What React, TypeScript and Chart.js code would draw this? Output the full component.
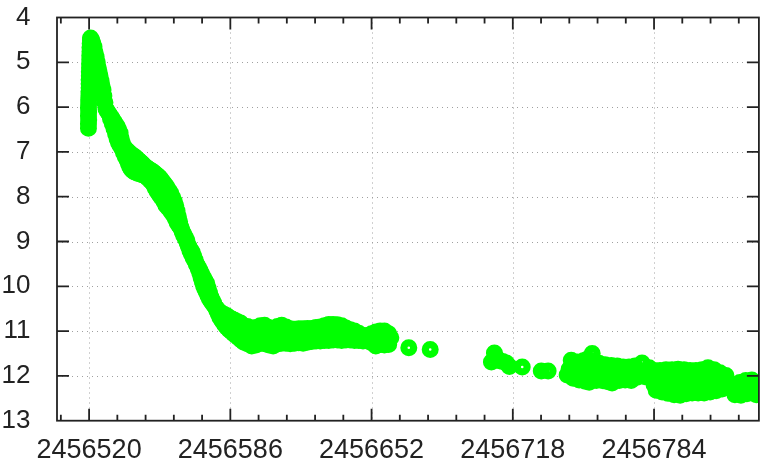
import { useEffect, useRef } from "react";
import { Chart, registerables } from "chart.js";

Chart.register(...registerables);

// Julian dates are stored as day offsets from JD0
const JD0 = 2456500;

const xMin = 2456505;
const xMax = 2456833;
const magMin = 4;
const magMax = 13;

const xTickValues = [2456520, 2456586, 2456652, 2456718, 2456784];
const magTicks = [4, 5, 6, 7, 8, 9, 10, 11, 12, 13];

// [day, magnitude]
const peakStub: [number, number][] = [
  [19.7, 6.47], [19.7, 6.38], [19.8, 6.29], [19.7, 6.2], [19.8, 6.11], [19.7, 6.02], [19.8, 5.93],
  [19.8, 5.84], [19.9, 5.75], [19.9, 5.66], [20.0, 5.57], [20.0, 5.48], [20.0, 5.39], [20.1, 5.3],
  [20.1, 5.21], [20.2, 5.12], [20.2, 5.03], [20.3, 4.94], [20.3, 4.85], [20.4, 4.76], [20.4, 4.67],
  [20.5, 4.58], [20.6, 4.5], [20.7, 4.46], [20.8, 4.7], [21.2, 4.9], [21.8, 5.1], [22.3, 5.3],
];

const declineBright: [number, number][] = [
  [21.2, 4.5], [21.8, 4.58], [22.3, 4.66], [22.8, 4.78], [23.3, 4.88], [23.8, 5.0], [24.3, 5.12],
  [24.7, 5.22], [25.1, 5.31], [25.6, 5.42], [26.0, 5.52], [26.5, 5.62], [26.9, 5.75], [27.4, 5.9],
  [27.9, 6.04], [28.6, 6.1], [29.3, 6.15], [30.0, 6.2], [30.7, 6.25], [31.5, 6.31], [32.3, 6.37],
  [33.1, 6.43], [33.8, 6.5], [34.5, 6.58], [35.0, 6.7], [35.5, 6.8], [36.2, 6.88], [37.0, 6.93],
  [37.8, 6.97], [38.7, 7.01], [39.6, 7.05], [40.5, 7.08], [41.4, 7.11], [42.3, 7.15], [43.3, 7.19],
  [44.2, 7.23], [45.1, 7.27], [46.0, 7.32], [46.9, 7.35], [47.8, 7.38], [48.7, 7.41], [49.5, 7.43],
  [50.3, 7.46], [51.2, 7.5], [52.1, 7.53], [53.0, 7.57], [53.8, 7.62], [54.6, 7.67], [55.4, 7.72],
  [56.3, 7.78], [57.2, 7.85], [58.1, 7.92], [59.0, 8.01], [59.8, 8.1], [60.5, 8.2], [61.1, 8.32],
  [61.7, 8.44], [62.3, 8.56], [62.9, 8.68], [63.5, 8.78], [64.2, 8.86], [65.0, 8.94], [65.8, 9.03],
  [66.6, 9.11], [67.4, 9.18], [68.2, 9.24], [68.9, 9.33], [69.6, 9.42], [70.3, 9.52], [71.0, 9.61],
  [71.7, 9.7], [72.3, 9.8], [72.9, 9.9], [73.5, 9.99], [74.1, 10.06], [74.8, 10.13], [75.5, 10.2],
  [76.2, 10.27], [76.9, 10.33], [77.8, 10.39], [78.8, 10.45], [79.8, 10.5], [80.9, 10.56], [82.0, 10.6],
  [83.2, 10.63], [84.4, 10.66], [85.6, 10.7], [86.8, 10.73], [88.0, 10.76], [89.4, 10.79], [90.8, 10.82],
];

const declineMid: [number, number][] = [
  [37.5, 7.08], [38.5, 7.15], [39.5, 7.21], [40.5, 7.25], [41.5, 7.29], [42.5, 7.32], [43.5, 7.35],
  [44.5, 7.38], [45.5, 7.4], [46.5, 7.43], [47.5, 7.48], [48.5, 7.52], [49.5, 7.56], [50.5, 7.6],
  [51.5, 7.66], [52.5, 7.73], [53.5, 7.79], [54.5, 7.86], [55.5, 7.92], [56.5, 7.99], [57.5, 8.07],
  [58.5, 8.15], [59.5, 8.24], [86.0, 10.86], [87.0, 10.9], [88.0, 10.93], [89.0, 10.96], [90.0, 10.99],
  [91.0, 11.02], [92.0, 11.04],
];

const declineFaint: [number, number][] = [
  [30.0, 6.26], [30.8, 6.36], [31.6, 6.47], [32.4, 6.6], [33.1, 6.71], [33.8, 6.8], [34.6, 6.87],
  [35.4, 6.93], [36.1, 7.02], [36.9, 7.1], [37.7, 7.18], [38.4, 7.26], [39.0, 7.33], [39.6, 7.38],
  [40.4, 7.42], [41.2, 7.45], [42.0, 7.46], [42.9, 7.48], [43.8, 7.49], [44.7, 7.51], [45.6, 7.52],
  [46.6, 7.55], [47.5, 7.59], [48.4, 7.63], [49.4, 7.68], [50.2, 7.74], [51.0, 7.81], [51.8, 7.88],
  [52.6, 7.94], [53.5, 8.0], [54.3, 8.05], [55.1, 8.12], [55.9, 8.19], [56.8, 8.24], [57.7, 8.29],
  [58.6, 8.35], [59.6, 8.42], [60.4, 8.5], [61.1, 8.57], [61.8, 8.63], [62.5, 8.67], [63.3, 8.74],
  [64.1, 8.82], [64.9, 8.9], [65.7, 8.98], [66.4, 9.1], [67.1, 9.2], [67.8, 9.28], [68.6, 9.36],
  [69.4, 9.43], [70.2, 9.51], [71.0, 9.57], [71.8, 9.64], [72.6, 9.72], [73.4, 9.8], [74.2, 9.87],
  [75.0, 9.94], [75.7, 10.05], [76.3, 10.15], [76.9, 10.24], [77.6, 10.31], [78.3, 10.38], [79.0, 10.46],
  [79.7, 10.54], [80.4, 10.62], [81.1, 10.69], [82.0, 10.76], [82.8, 10.82], [83.6, 10.87], [84.4, 10.92],
  [85.4, 10.97], [86.4, 11.01], [87.5, 11.06], [88.6, 11.1], [89.8, 11.15], [91.0, 11.2], [92.3, 11.25],
];

const plateauBright: [number, number][] = [
  [94, 10.9], [96, 10.93], [98, 10.92], [100, 10.88], [102, 10.87], [104, 10.92], [106, 10.95],
  [108, 10.9], [110, 10.87], [112, 10.91], [114, 10.95], [116, 10.96], [118, 10.95], [120, 10.95],
  [122, 10.94], [124, 10.94], [126, 10.92], [128, 10.91], [130, 10.88], [132, 10.85], [134, 10.85],
  [136, 10.86], [138, 10.88], [140, 10.93], [142, 10.97], [144, 11.0], [146, 11.05], [148, 11.1],
  [150, 11.1], [152, 11.06], [154, 11.02], [156, 11.0], [158, 11.0], [160, 11.06],
];

const plateauMid: [number, number][] = [
  [93, 11.08], [95, 11.12], [97, 11.13], [99, 11.1], [101, 11.08], [103, 11.1], [105, 11.13],
  [107, 11.11], [109, 11.08], [111, 11.09], [113, 11.11], [115, 11.12], [117, 11.11], [119, 11.1],
  [121, 11.11], [123, 11.1], [125, 11.08], [127, 11.07], [129, 11.05], [131, 11.03], [133, 11.03],
  [135, 11.03], [137, 11.04], [139, 11.06], [141, 11.08], [143, 11.1], [145, 11.13], [147, 11.15],
  [149, 11.16], [151, 11.16], [153, 11.17], [155, 11.17], [157, 11.16], [159, 11.18], [161, 11.15],
];

const plateauFaint: [number, number][] = [
  [94, 11.28], [96, 11.33], [98, 11.31], [100, 11.27], [102, 11.28], [104, 11.31], [106, 11.33],
  [108, 11.29], [110, 11.27], [112, 11.27], [114, 11.28], [116, 11.27], [118, 11.26], [120, 11.27],
  [122, 11.25], [124, 11.23], [126, 11.22], [128, 11.22], [130, 11.21], [132, 11.21], [134, 11.2],
  [136, 11.2], [138, 11.21], [140, 11.2], [142, 11.2], [144, 11.21], [146, 11.21], [148, 11.22],
  [150, 11.22], [152, 11.26], [154, 11.33], [156, 11.3], [158, 11.31], [160, 11.3],
];

const lateSparse: [number, number][] = [
  [169.4, 11.37], [179.4, 11.41], [208.0, 11.69], [209.4, 11.49], [210.5, 11.6], [211.7, 11.66],
  [213.3, 11.68], [215.0, 11.71], [216.4, 11.79], [222.4, 11.8], [231.3, 11.89], [234.5, 11.89],
];

const lateGroupA: [number, number][] = [
  [245.3, 11.65], [248.1, 11.69], [251.0, 11.66], [253.0, 11.62], [255.1, 11.5], [258.3, 11.72],
  [261.1, 11.75], [264.0, 11.77], [266.8, 11.78], [269.5, 11.8], [272.3, 11.8], [275.1, 11.78],
  [278.4, 11.71], [281.7, 11.82],
  [244.3, 11.85], [247.1, 11.89], [250.0, 11.92], [252.7, 11.9], [255.5, 11.91], [258.3, 11.92],
  [261.1, 11.93], [263.9, 11.94], [266.8, 11.94], [269.5, 11.93], [272.3, 11.94], [275.1, 11.93],
  [278.0, 11.92], [280.8, 11.94],
  [243.4, 11.98], [246.2, 12.05], [249.0, 12.09], [251.8, 12.12], [253.7, 12.14], [257.0, 12.1],
  [260.2, 12.11], [262.5, 12.13], [264.4, 12.16], [267.7, 12.1], [270.5, 12.09], [273.3, 12.1],
  [276.1, 12.03], [279.8, 12.02],
];

const lateGroupB: [number, number][] = [
  [284.0, 11.88], [286.8, 11.88], [289.6, 11.86], [292.4, 11.86], [295.2, 11.85], [298.0, 11.86],
  [300.8, 11.88], [303.6, 11.88], [306.4, 11.86], [309.2, 11.82], [312.0, 11.86], [314.8, 11.93],
  [317.6, 11.99],
  [285.4, 12.03], [288.2, 12.04], [291.0, 12.03], [293.8, 12.02], [296.6, 12.03], [299.4, 12.05],
  [302.2, 12.05], [305.0, 12.04], [307.8, 12.03], [310.6, 12.04], [313.4, 12.07], [316.2, 12.1],
  [284.0, 12.2], [286.8, 12.21], [289.6, 12.19], [292.4, 12.2], [295.2, 12.22], [298.0, 12.21],
  [300.8, 12.2], [303.6, 12.19], [306.4, 12.2], [309.2, 12.21], [312.0, 12.22], [314.8, 12.24],
  [317.6, 12.25],
  [285.0, 12.32], [287.8, 12.36], [290.6, 12.39], [293.4, 12.42], [296.2, 12.43], [299.0, 12.4],
  [301.8, 12.38], [304.6, 12.38], [307.4, 12.38], [310.2, 12.36], [313.0, 12.33], [315.8, 12.29],
];

const lateGroupC: [number, number][] = [
  [321.3, 12.2], [324.1, 12.15], [326.9, 12.1], [329.7, 12.09], [331.6, 12.16],
  [320.4, 12.3], [323.0, 12.28], [325.8, 12.25], [328.5, 12.27], [331.0, 12.3],
  [321.8, 12.42], [324.6, 12.43], [327.4, 12.4], [330.0, 12.38], [331.8, 12.42],
];

const allObservations = [
  ...peakStub, ...declineBright, ...declineMid, ...declineFaint,
  ...plateauBright, ...plateauMid, ...plateauFaint,
  ...lateSparse, ...lateGroupA, ...lateGroupB, ...lateGroupC,
];

const FONT = "'Liberation Sans', Arial, Helvetica, sans-serif";
const INK = "#222222";

// gnuplot-like frame: dotted grid behind the points, inward ticks on all four sides
const frameAndGrid = {
  id: "frameAndGrid",
  beforeDatasetsDraw(chart: any) {
    const { ctx, chartArea: a } = chart;
    const xs = chart.scales.x;
    const ys = chart.scales.y;
    ctx.save();
    ctx.strokeStyle = "#a0a0a0";
    ctx.lineWidth = 1;
    ctx.setLineDash([1, 4]);
    ctx.beginPath();
    xTickValues.forEach((v) => {
      const px = Math.round(xs.getPixelForValue(v)) + 0.5;
      ctx.moveTo(px, a.top);
      ctx.lineTo(px, a.bottom);
    });
    magTicks.forEach((m) => {
      if (m === magMin || m === magMax) return;
      const py = Math.round(ys.getPixelForValue(m)) + 0.5;
      ctx.moveTo(a.left, py);
      ctx.lineTo(a.right, py);
    });
    ctx.stroke();
    ctx.restore();
  },
  afterDatasetsDraw(chart: any) {
    const { ctx, chartArea: a } = chart;
    const xs = chart.scales.x;
    const ys = chart.scales.y;
    ctx.save();
    ctx.strokeStyle = INK;
    ctx.lineWidth = 1.8;
    ctx.beginPath();
    // minor ticks: 5 intervals per major step
    const step = (xTickValues[1] - xTickValues[0]) / 5;
    for (let i = -1; ; i++) {
      const v = xTickValues[0] + i * step;
      if (v > xMax) break;
      if (v < xMin) continue;
      const len = i % 5 === 0 ? 12 : 6;
      const px = xs.getPixelForValue(v);
      ctx.moveTo(px, a.bottom);
      ctx.lineTo(px, a.bottom - len);
      ctx.moveTo(px, a.top);
      ctx.lineTo(px, a.top + len);
    }
    magTicks.forEach((m) => {
      if (m === magMin || m === magMax) return;
      const py = ys.getPixelForValue(m);
      ctx.moveTo(a.left, py);
      ctx.lineTo(a.left + 12, py);
      ctx.moveTo(a.right, py);
      ctx.lineTo(a.right - 12, py);
    });
    ctx.stroke();
    ctx.strokeRect(a.left, a.top, a.right - a.left, a.bottom - a.top);
    ctx.restore();
  },
};

export default function App() {
  const canvasRef = useRef<HTMLCanvasElement>(null);
  const chartRef = useRef<Chart | null>(null);

  useEffect(() => {
    document.body.style.margin = "0";
    if (!canvasRef.current) return;
    if (chartRef.current) chartRef.current.destroy();

    chartRef.current = new Chart(canvasRef.current, {
      type: "scatter",
      data: {
        datasets: [
          {
            label: "magnitude",
            data: allObservations.map(([d, m]) => ({ x: JD0 + d, y: m })),
            showLine: false,
            pointStyle: "circle",
            pointRadius: 4.9,
            pointBorderWidth: 7.2,
            pointBorderColor: "#00ff00",
            pointBackgroundColor: "rgba(0,0,0,0)",
            pointHoverRadius: 4.9,
            pointHoverBorderWidth: 7.2,
            clip: 0,
          },
        ],
      },
      options: {
        animation: false,
        responsive: true,
        maintainAspectRatio: false,
        layout: { padding: { top: 17.5, right: 11, left: 0, bottom: 0 } },
        plugins: {
          legend: { display: false },
          tooltip: { enabled: false },
        },
        scales: {
          x: {
            type: "linear",
            min: xMin,
            max: xMax,
            grid: { display: false },
            border: { display: false },
            afterBuildTicks: (scale: any) => {
              scale.ticks = xTickValues.map((value) => ({ value }));
            },
            afterFit: (scale: any) => {
              scale.height = 42.3;
              scale.paddingLeft = 0;
              scale.paddingRight = 0;
            },
            ticks: {
              autoSkip: false,
              maxRotation: 0,
              padding: 6,
              color: INK,
              font: { family: FONT, size: 27 },
              callback: (v: any) => String(v),
            },
          },
          y: {
            type: "linear",
            reverse: true,
            min: magMin,
            max: magMax,
            grid: { display: false },
            border: { display: false },
            afterFit: (scale: any) => {
              scale.width = 57;
              scale.paddingTop = 0;
              scale.paddingBottom = 0;
            },
            ticks: {
              stepSize: 1,
              padding: 18.5,
              color: INK,
              font: { family: FONT, size: 26 },
              callback: (v: any) => String(v),
            },
          },
        },
      },
      plugins: [frameAndGrid],
    });

    return () => {
      if (chartRef.current) {
        chartRef.current.destroy();
        chartRef.current = null;
      }
    };
  }, []);

  return (
    <div style={{ width: 771, height: 463, position: "relative" }}>
      <canvas ref={canvasRef}></canvas>
    </div>
  );
}
